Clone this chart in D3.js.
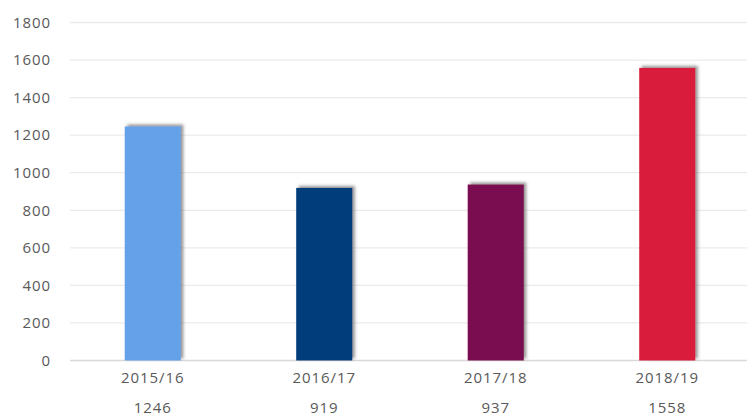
<!DOCTYPE html>
<html>
<head>
<meta charset="utf-8">
<script src="https://cdn.jsdelivr.net/npm/d3@7"></script>
<style>
  body { margin: 0; background: #fff; }
  text { font-family: "Open Sans", sans-serif; fill: #595959; }
</style>
</head>
<body>
<div id="chart"></div>
<script>
let w = 747;
let h = 416;

// data
let years = ["2015/16", "2016/17", "2017/18", "2018/19"];
let values = [1246, 919, 937, 1558];
let ticks = [0, 200, 400, 600, 800, 1000, 1200, 1400, 1600, 1800];
let colors = ["#65a1e9", "#023c7a", "#7a0f4f", "#d91e3b"];

let svg = d3.select("#chart")
              .append("svg")
                .attr("width", w)
                .attr("height", h);

// shadow filter for the bars
let filter = svg.append("defs").append("filter")
                  .attr("id", "shadow")
                  .attr("x", "-30%").attr("y", "-30%")
                  .attr("width", "160%").attr("height", "160%");
filter.append("feDropShadow")
        .attr("dx", 2.5)
        .attr("dy", -2)
        .attr("stdDeviation", 1.8)
        .attr("flood-color", "#404040")
        .attr("flood-opacity", 0.55);

let x = d3.scaleBand()
            .domain(years)
            .range([67, 753])
            .paddingInner(0.673)
            .paddingOuter(0.3365);

let y = d3.scaleLinear()
            .domain([0, 1800])
            .range([360.5, 22.5]);

// gridlines
svg.selectAll("line.grid").data(ticks).enter()
      .append("line")
        .attr("class", "grid")
        .attr("x1", 70)
        .attr("x2", w)
        .attr("y1", d => y(d))
        .attr("y2", d => y(d))
        .attr("stroke", d => d == 0 ? "#d9d9d9" : "#ebebeb")
        .attr("stroke-width", 1.3);

// y labels
svg.selectAll("text.ytick").data(ticks).enter()
      .append("text")
        .attr("class", "ytick")
        .attr("x", 51)
        .attr("y", d => y(d))
        .attr("dy", "0.35em")
        .attr("text-anchor", "end")
        .attr("font-size", 15)
        .attr("letter-spacing", 0.9)
        .text(d => d);

// bars
svg.selectAll("rect.bar").data(values).enter()
      .append("rect")
        .attr("class", "bar")
        .attr("x", (d, i) => x(years[i]))
        .attr("y", d => y(d))
        .attr("width", x.bandwidth())
        .attr("height", d => y(0) - y(d))
        .attr("fill", (d, i) => colors[i])
        .attr("filter", "url(#shadow)");

// category labels
svg.selectAll("text.cat").data(years).enter()
      .append("text")
        .attr("class", "cat")
        .attr("x", d => x(d) + x.bandwidth() / 2)
        .attr("y", 378)
        .attr("dy", "0.35em")
        .attr("text-anchor", "middle")
        .attr("font-size", 15)
        .attr("letter-spacing", 0.9)
        .text(d => d);

// value labels under the categories
svg.selectAll("text.val").data(values).enter()
      .append("text")
        .attr("class", "val")
        .attr("x", (d, i) => x(years[i]) + x.bandwidth() / 2)
        .attr("y", 408)
        .attr("dy", "0.35em")
        .attr("text-anchor", "middle")
        .attr("font-size", 15)
        .attr("letter-spacing", 0.9)
        .text(d => d);
</script>
</body>
</html>
